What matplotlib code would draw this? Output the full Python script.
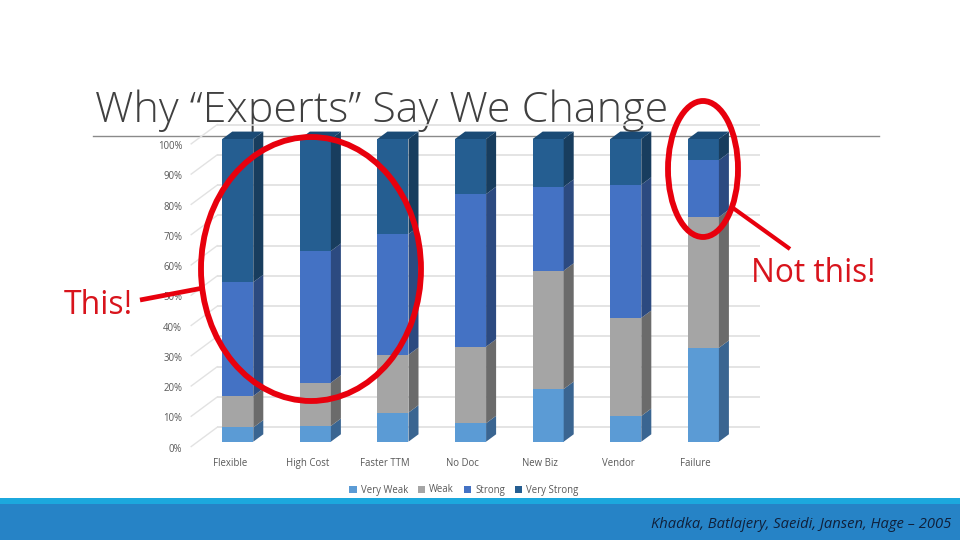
import matplotlib
matplotlib.use("Agg")
import matplotlib.pyplot as plt
import numpy as np
from matplotlib.patches import Ellipse, Rectangle
from matplotlib.transforms import ScaledTranslation

plt.rcParams['font.family'] = ['Open Sans', 'DejaVu Sans']

categories = ["Flexible", "High Cost", "Faster TTM", "No Doc", "New Biz", "Vendor", "Failure"]
very_weak = [4.7, 5.2, 9.6, 6.1, 17.4, 8.5, 31.0]
weak = [10.4, 14.3, 19.1, 25.3, 39.1, 32.4, 43.2]
strong = [37.6, 43.5, 39.9, 50.4, 27.7, 44.0, 18.8]
very_strong = [47.3, 37.0, 31.4, 18.2, 15.8, 15.1, 7.0]
pct_ticks = [0, 10, 20, 30, 40, 50, 60, 70, 80, 90, 100]

series_names = ["Very Weak", "Weak", "Strong", "Very Strong"]
front_colors = ["#5b9bd5", "#a5a5a5", "#4472c4", "#255e91"]
side_colors = ["#3a6591", "#6b6b6b", "#2c4a80", "#183d5e"]
top_color = "#1a4a75"

fig = plt.figure(figsize=(9.6, 5.4), dpi=100, facecolor="white")

# background layer in pixels
bg = fig.add_axes([0, 0, 1, 1], zorder=0)
bg.set_xlim(0, 960)
bg.set_ylim(540, 0)
bg.axis("off")
bg.add_patch(Rectangle((0, 498), 960, 6, color="#1ca8dd", lw=0))
bg.add_patch(Rectangle((0, 504), 960, 36, color="#2683c6", lw=0))
bg.plot([93, 879], [136, 136], color="#8a8a8a", lw=1)
bg.text(382, 110.5, "Why “Experts” Say We Change", fontsize=31, color="#404040",
        fontweight="light", ha="center", va="center")
bg.text(951, 525, "Khadka, Batlajery, Saeidi, Jansen, Hage – 2005", fontsize=10.65,
        style="italic", color="#10203a", ha="right", va="center")

# chart: y 0-100 sits on the bar fronts, x is category index
x0_px, x1_px = 191.2, 757.7
ax = fig.add_axes([x0_px / 960, (540 - 441.7) / 540, (x1_px - x0_px) / 960, 302.7 / 540], zorder=1)
ax.patch.set_alpha(0)
for s in ax.spines.values():
    s.set_visible(False)

x = np.arange(len(categories))
bar_w = 0.4
dx = 0.129
dy = 2.45
wall_dy = 4.76
front_dy = -1.6

# back wall grid and the floor/side diagonals
for v in pct_ticks:
    ax.hlines(v + wall_dy, -0.265, 6.73, color="#dcdcdc", lw=1.1, clip_on=False, zorder=1)
    ax.plot([-0.6, -0.265], [v + front_dy, v + wall_dy], color="#e2e2e2", lw=1, clip_on=False, zorder=1)

bottom = np.zeros(len(categories))
for vals, name, fc, sc in zip([very_weak, weak, strong, very_strong], series_names, front_colors, side_colors):
    vals = np.array(vals)
    ax.bar(x, vals, bar_w, bottom=bottom, color=fc, label=name, zorder=3)
    for xi, b, v in zip(x, bottom, vals):
        r = xi + bar_w / 2
        ax.fill([r, r + dx, r + dx, r], [b, b + dy, b + v + dy, b + v], color=sc, lw=0, clip_on=False, zorder=3)
    bottom = bottom + vals

for xi, t in zip(x, bottom):
    l, r = xi - bar_w / 2, xi + bar_w / 2
    ax.fill([l, r, r + dx, l + dx], [t, t, t + dy, t + dy], color=top_color, lw=0, clip_on=False, zorder=3)

ax.set_xticks(x - 0.1, categories, fontsize=6.9, color="#595959")
ax.set_yticks(pct_ticks, [f"{v}%" for v in pct_ticks], fontsize=6.9, color="#595959")
ax.set_xlim(-0.6, 6.7)
ax.set_ylim(0, 100)
ax.tick_params(length=0)
ax.tick_params(axis="x", pad=11.5)
ax.tick_params(axis="y", pad=6.5)
# the percent labels sit a little below their value in the 3d view
label_shift = ScaledTranslation(0, -6 / 100, fig.dpi_scale_trans)
for lab in ax.get_yticklabels():
    lab.set_transform(lab.get_transform() + label_shift)
ax.legend(loc="center", bbox_to_anchor=((464 - x0_px) / (x1_px - x0_px), (441.7 - 490) / 302.7),
          ncol=4, frameon=False, fontsize=6.9, labelcolor="#595959", handlelength=0.8,
          handleheight=0.8, handletextpad=0.4, columnspacing=1.0)

# red annotations on top
fg = fig.add_axes([0, 0, 1, 1], zorder=2)
fg.set_xlim(0, 960)
fg.set_ylim(540, 0)
fg.axis("off")
red = "#e8000d"
fg.add_patch(Ellipse((311, 269), 220, 264, fill=False, ec=red, lw=4.2))
fg.add_patch(Ellipse((703, 169), 70, 136, fill=False, ec=red, lw=4.2))
fg.plot([140, 203], [300, 288], color=red, lw=3.4, solid_capstyle="butt")
fg.plot([733, 790], [208, 249], color=red, lw=3, solid_capstyle="butt")
fg.text(98.5, 305, "This!", fontsize=23, color="#d8141c", ha="center", va="center")
fg.text(813.5, 273, "Not this!", fontsize=22.8, color="#d8141c", ha="center", va="center")

fig.savefig("out.png", dpi=100)
